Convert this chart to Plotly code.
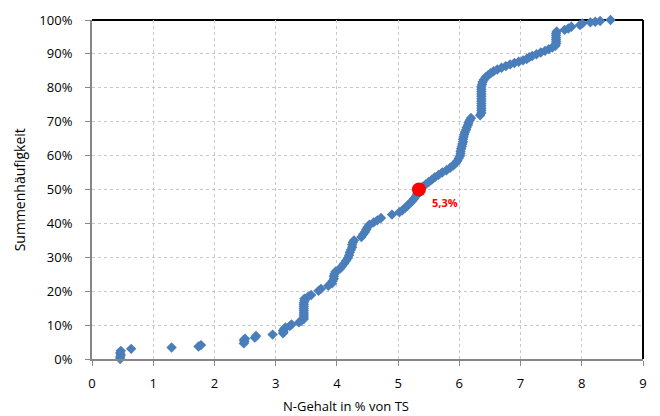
import plotly.graph_objects as go

# N content of dry matter (%) for each sample, sorted ascending
n_gehalt = [
    0.46, 0.46, 0.47, 0.46, 0.47, 0.64, 1.30, 1.74, 1.78, 2.48,
    2.49, 2.48, 2.50, 2.66, 2.68, 2.95, 3.12, 3.13, 3.12, 3.14,
    3.16, 3.23, 3.26, 3.38, 3.42, 3.46, 3.46, 3.46, 3.46, 3.46,
    3.46, 3.46, 3.46, 3.46, 3.47, 3.47, 3.53, 3.58, 3.70, 3.74,
    3.86, 3.92, 3.93, 3.95, 3.95, 3.96, 3.98, 4.05, 4.08, 4.12,
    4.15, 4.18, 4.20, 4.21, 4.23, 4.25, 4.25, 4.26, 4.28, 4.40,
    4.43, 4.46, 4.48, 4.50, 4.53, 4.60, 4.66, 4.72, 4.90, 5.02,
    5.07, 5.11, 5.15, 5.19, 5.23, 5.26, 5.29, 5.31, 5.33, 5.36,
    5.40, 5.45, 5.50, 5.55, 5.60, 5.66, 5.72, 5.79, 5.85, 5.90,
    5.94, 5.97, 5.99, 6.01, 6.02, 6.02, 6.03, 6.04, 6.05, 6.06,
    6.06, 6.07, 6.08, 6.09, 6.11, 6.12, 6.14, 6.15, 6.17, 6.19,
    6.34, 6.36, 6.36, 6.36, 6.36, 6.36, 6.36, 6.36, 6.36, 6.36,
    6.36, 6.36, 6.36, 6.37, 6.38, 6.40, 6.43, 6.47, 6.51, 6.56,
    6.62, 6.69, 6.76, 6.83, 6.90, 6.97, 7.04, 7.10, 7.14, 7.19,
    7.26, 7.33, 7.40, 7.46, 7.52, 7.57, 7.58, 7.58, 7.58, 7.58,
    7.58, 7.58, 7.59, 7.72, 7.78, 7.83, 7.97, 8.01, 8.14, 8.22,
    8.30, 8.47,
]

# cumulative frequency (%) belonging to each sample
summe = [
    0.0, 0.6, 1.2, 1.8, 2.4, 3.0, 3.4, 3.7, 4.1, 4.6,
    5.1, 5.6, 6.0, 6.3, 6.8, 7.2, 7.6, 8.0, 8.4, 8.9,
    9.3, 9.7, 10.2, 10.8, 11.3, 11.8, 12.4, 13.0, 13.6, 14.2,
    14.8, 15.4, 16.0, 16.6, 17.2, 17.8, 18.4, 18.9, 20.1, 20.7,
    21.6, 22.3, 23.0, 23.7, 24.4, 25.1, 25.8, 26.6, 27.3, 28.2,
    29.0, 29.8, 30.6, 31.4, 32.2, 33.0, 33.7, 34.4, 35.0, 36.0,
    36.8, 37.5, 38.2, 38.9, 39.6, 40.3, 40.9, 41.6, 42.6, 43.3,
    43.9, 44.5, 45.2, 45.9, 46.6, 47.3, 48.0, 48.7, 49.4, 50.1,
    50.8, 51.5, 52.2, 52.9, 53.6, 54.3, 55.0, 55.7, 56.4, 57.1,
    57.8, 58.5, 59.2, 59.9, 60.6, 61.3, 62.0, 62.7, 63.4, 64.1,
    64.8, 65.5, 66.2, 66.9, 67.6, 68.3, 69.0, 69.7, 70.4, 71.1,
    71.9, 72.6, 73.3, 74.0, 74.7, 75.4, 76.1, 76.8, 77.5, 78.2,
    78.9, 79.6, 80.3, 81.0, 81.7, 82.4, 83.1, 83.7, 84.3, 84.9,
    85.4, 85.9, 86.4, 86.9, 87.3, 87.7, 88.1, 88.5, 89.0, 89.4,
    89.9, 90.4, 90.9, 91.4, 91.9, 92.4, 93.0, 93.6, 94.2, 94.8,
    95.4, 96.0, 96.6, 97.1, 97.5, 98.0, 98.5, 99.0, 99.3, 99.5,
    99.7, 100.0,
]

# median of the distribution
median_x = [5.34]
median_y = [50.0]

x_ticks = [0, 1, 2, 3, 4, 5, 6, 7, 8, 9]
y_ticks = [0, 10, 20, 30, 40, 50, 60, 70, 80, 90, 100]
y_tick_text = [f"{v}%" for v in y_ticks]

FONT = "Open Sans"
GRID = "#c8c8c8"
AXIS = "#868686"

fig = go.Figure()

fig.add_trace(go.Scatter(
    x=n_gehalt, y=summe, mode="markers",
    marker=dict(symbol="diamond", size=8, color="#4a7ebb",
                line=dict(width=0)),
    cliponaxis=False, showlegend=False,
))

fig.add_trace(go.Scatter(
    x=median_x, y=median_y, mode="markers",
    marker=dict(symbol="circle", size=14, color="#ff0000",
                line=dict(width=0)),
    cliponaxis=False, showlegend=False,
))

median_label = f"{median_x[0]:.1f}".replace(".", ",") + "%"
fig.add_annotation(
    x=median_x[0], y=median_y[0], text=f"<b>{median_label}</b>",
    showarrow=False, xanchor="left", yanchor="middle",
    xshift=11, yshift=-13,
    font=dict(family=FONT, size=11, color="#ff0000"),
)

# axis titles
fig.add_annotation(
    x=-0.131, y=0.5, xref="paper", yref="paper",
    text="Summenhäufigkeit", textangle=-90, showarrow=False,
    xanchor="center", yanchor="middle",
    font=dict(family=FONT, size=14, color="#000000"),
)
fig.add_annotation(
    x=0.461, y=-0.138, xref="paper", yref="paper",
    text="N-Gehalt in % von TS", showarrow=False,
    xanchor="center", yanchor="middle",
    font=dict(family=FONT, size=13, color="#000000"),
)

# black frame on top and right edge of the plot area
fig.add_shape(type="line", xref="paper", yref="paper",
              x0=0, x1=1, y0=1, y1=1,
              line=dict(color="#000000", width=2), layer="below")
fig.add_shape(type="line", xref="paper", yref="paper",
              x0=1, x1=1, y0=0, y1=1,
              line=dict(color="#000000", width=2), layer="below")

axis_common = dict(
    showgrid=True, gridcolor=GRID, gridwidth=1, griddash="3px,3px",
    showline=True, linecolor=AXIS, linewidth=2,
    ticks="outside", ticklen=5, tickcolor=AXIS, tickwidth=1,
    zeroline=False,
    tickfont=dict(family=FONT, size=13, color="#000000"),
)

fig.update_xaxes(range=[0, 9], tickvals=x_ticks, ticklabelstandoff=6,
                 **axis_common)
fig.update_yaxes(range=[0, 100], tickvals=y_ticks, ticktext=y_tick_text,
                 ticklabelstandoff=10, **axis_common)

fig.update_layout(
    width=660, height=416,
    margin=dict(l=92, r=17, t=20, b=57),
    paper_bgcolor="#ffffff", plot_bgcolor="#ffffff",
    font=dict(family=FONT),
)

fig.write_html("out.html")
